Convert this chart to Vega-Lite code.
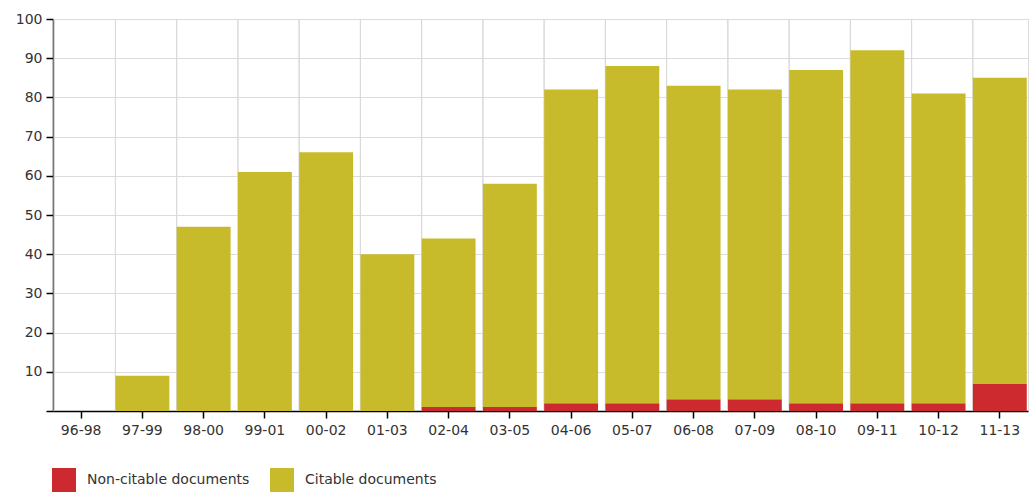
{
  "$schema": "https://vega.github.io/schema/vega-lite/v6.json",
  "width": 975,
  "height": 392,
  "autosize": "none",
  "padding": {"left": 53, "top": 19, "right": 7, "bottom": 82},
  "background": "white",
  "config": {
    "view": {"stroke": "#dcdcdc"},
    "font": "DejaVu Sans"
  },
  "data": {
    "values": [
      {"period": "96-98", "type": "Non-citable documents", "value": 0},
      {"period": "96-98", "type": "Citable documents", "value": 0},
      {"period": "97-99", "type": "Non-citable documents", "value": 0},
      {"period": "97-99", "type": "Citable documents", "value": 9},
      {"period": "98-00", "type": "Non-citable documents", "value": 0},
      {"period": "98-00", "type": "Citable documents", "value": 47},
      {"period": "99-01", "type": "Non-citable documents", "value": 0},
      {"period": "99-01", "type": "Citable documents", "value": 61},
      {"period": "00-02", "type": "Non-citable documents", "value": 0},
      {"period": "00-02", "type": "Citable documents", "value": 66},
      {"period": "01-03", "type": "Non-citable documents", "value": 0},
      {"period": "01-03", "type": "Citable documents", "value": 40},
      {"period": "02-04", "type": "Non-citable documents", "value": 1},
      {"period": "02-04", "type": "Citable documents", "value": 43},
      {"period": "03-05", "type": "Non-citable documents", "value": 1},
      {"period": "03-05", "type": "Citable documents", "value": 57},
      {"period": "04-06", "type": "Non-citable documents", "value": 2},
      {"period": "04-06", "type": "Citable documents", "value": 80},
      {"period": "05-07", "type": "Non-citable documents", "value": 2},
      {"period": "05-07", "type": "Citable documents", "value": 86},
      {"period": "06-08", "type": "Non-citable documents", "value": 3},
      {"period": "06-08", "type": "Citable documents", "value": 80},
      {"period": "07-09", "type": "Non-citable documents", "value": 3},
      {"period": "07-09", "type": "Citable documents", "value": 79},
      {"period": "08-10", "type": "Non-citable documents", "value": 2},
      {"period": "08-10", "type": "Citable documents", "value": 85},
      {"period": "09-11", "type": "Non-citable documents", "value": 2},
      {"period": "09-11", "type": "Citable documents", "value": 90},
      {"period": "10-12", "type": "Non-citable documents", "value": 2},
      {"period": "10-12", "type": "Citable documents", "value": 79},
      {"period": "11-13", "type": "Non-citable documents", "value": 7},
      {"period": "11-13", "type": "Citable documents", "value": 78}
    ]
  },
  "layer": [
    {
      "mark": {"type": "rule", "color": "#d9d9d9", "strokeWidth": 1, "xOffset": -27},
      "encoding": {
        "x": {"field": "period", "type": "nominal", "sort": null}
      }
    },
    {
      "mark": {"type": "bar"},
      "encoding": {
        "x": {
          "field": "period",
          "type": "nominal",
          "sort": null,
          "scale": {"paddingInner": 0.12, "paddingOuter": 0.02},
          "axis": {
            "title": null,
            "labelAngle": 0,
            "labelAlign": "center",
            "labelBaseline": "top",
            "labelFontSize": 14,
            "labelColor": "#333333",
            "labelPadding": 5,
            "domainColor": "#000000",
            "domainWidth": 1.5,
            "tickColor": "#000000",
            "tickSize": 7,
            "tickWidth": 1.5,
            "grid": false
          }
        },
        "y": {
          "field": "value",
          "type": "quantitative",
          "stack": "zero",
          "scale": {"domain": [0, 100], "nice": false},
          "axis": {
            "title": null,
            "values": [0, 10, 20, 30, 40, 50, 60, 70, 80, 90, 100],
            "labelExpr": "datum.value == 0 ? '' : datum.label",
            "labelFontSize": 14,
            "labelColor": "#333333",
            "labelPadding": 4,
            "domainColor": "#000000",
            "domainWidth": 1.5,
            "tickColor": "#000000",
            "tickSize": 7,
            "tickWidth": 1.5,
            "grid": true,
            "gridColor": "#dcdcdc"
          }
        },
        "color": {
          "field": "type",
          "type": "nominal",
          "scale": {
            "domain": ["Non-citable documents", "Citable documents"],
            "range": ["#cc2a2e", "#c8bb2b"]
          },
          "legend": {
            "title": null,
            "orient": "none",
            "legendX": -1,
            "legendY": 449,
            "direction": "horizontal",
            "symbolType": "square",
            "symbolSize": 576,
            "symbolStrokeWidth": 0,
            "labelFontSize": 14,
            "labelLimit": 400,
            "labelColor": "#333333",
            "labelOffset": 11,
            "columnPadding": 20,
            "padding": 0
          }
        },
        "order": {"field": "type", "sort": "descending"}
      }
    }
  ]
}
